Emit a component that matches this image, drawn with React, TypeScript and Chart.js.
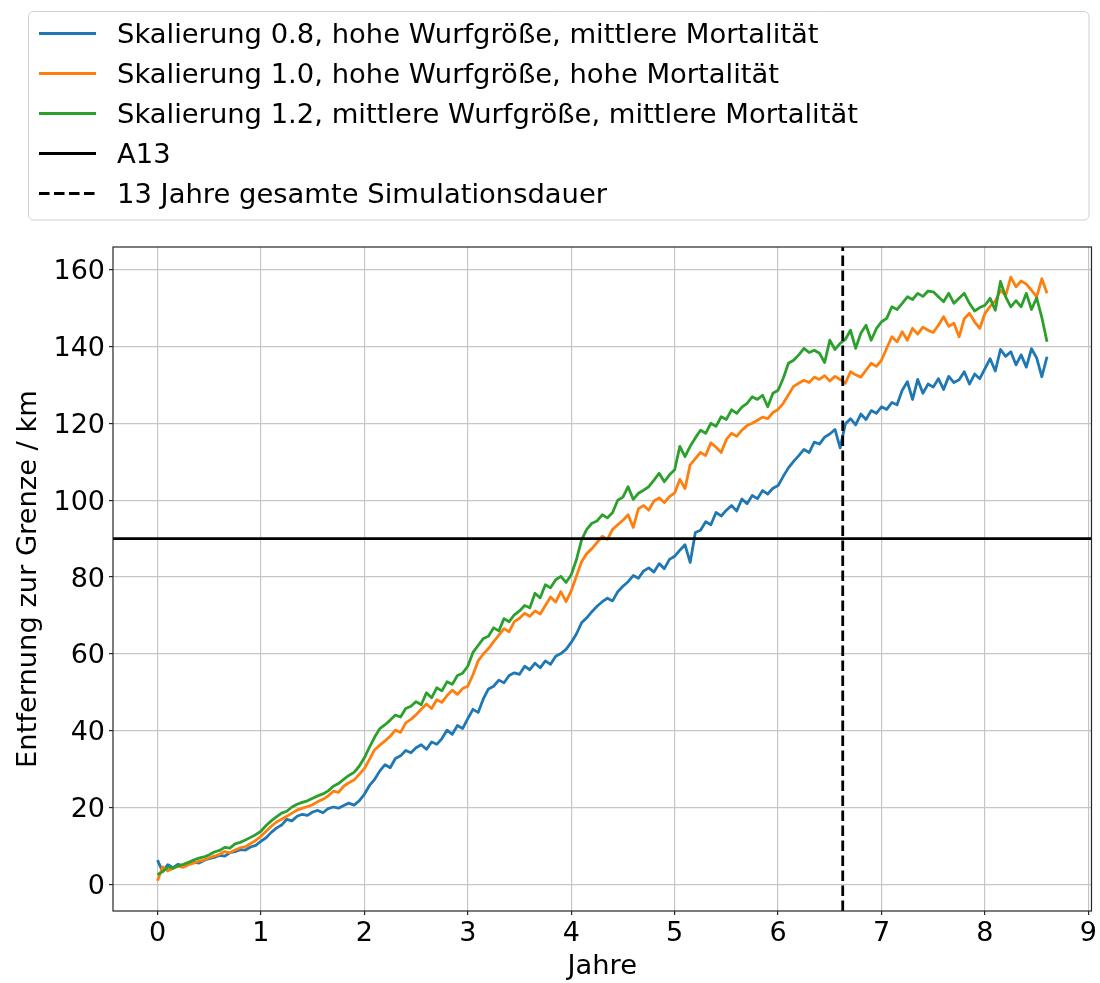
import React, { useEffect, useRef } from "react";
import { Chart, registerables } from "chart.js";

Chart.register(...registerables);

// ---------- data (years on x at a fixed step, km on y) ----------
const YEAR_STEP = 0.05;

const SERIES_LABELS = [
  "Skalierung 0.8, hohe Wurfgröße, mittlere Mortalität",
  "Skalierung 1.0, hohe Wurfgröße, hohe Mortalität",
  "Skalierung 1.2, mittlere Wurfgröße, mittlere Mortalität",
];
const SERIES_COLORS = ["#1f77b4", "#ff7f0e", "#2ca02c"];

const scale08 = [
  6.4, 3.4, 5.2, 4.4, 5.3, 4.8, 5.6, 5.9, 5.6, 6.3,
  6.8, 7.1, 7.6, 7.4, 8.3, 8.6, 9.1, 9.0, 9.8, 10.2,
  11.3, 12.2, 13.6, 14.7, 15.5, 17.0, 16.6, 17.8, 18.3, 18.0,
  18.9, 19.3, 18.7, 19.8, 20.2, 19.9, 20.6, 21.2, 20.7, 21.8,
  23.5, 25.8, 27.4, 29.6, 31.2, 30.4, 32.8, 33.5, 34.9, 34.3,
  35.6, 36.4, 35.2, 37.1, 36.5, 38.0, 40.2, 39.1, 41.4, 40.6,
  43.2, 45.6, 44.8, 48.3, 50.9, 51.6, 53.2, 52.5, 54.4, 55.1,
  54.7, 56.8, 55.9, 57.6, 56.4, 58.2, 57.3, 59.4, 60.1, 61.2,
  63.0, 65.2, 68.1, 69.4, 71.0, 72.4, 73.6, 74.5, 73.8, 76.2,
  77.6, 78.8, 80.4, 79.7, 81.6, 82.4, 81.3, 83.5, 82.2, 84.6,
  85.4, 87.0, 88.4, 83.8, 91.6, 92.2, 94.4, 93.6, 96.8, 95.9,
  97.4, 98.6, 97.2, 100.3, 99.1, 101.2, 100.4, 102.5, 101.6, 103.1,
  103.8, 106.2, 108.4, 110.1, 111.6, 113.2, 112.4, 115.1, 114.6, 116.4,
  117.2, 118.4, 113.6, 119.8, 121.2, 119.6, 122.4, 121.0, 123.3, 122.6,
  124.3, 123.6, 125.4, 124.8, 128.6, 130.8, 126.2, 131.4, 127.8, 130.2,
  129.4, 131.6, 128.8, 132.2, 130.6, 131.3, 133.4, 130.2, 132.8, 131.6,
  134.2, 136.8, 133.6, 139.2, 137.4, 138.6, 135.2, 137.8, 134.6, 139.4,
  137.0, 132.1, 137.3,
];

const scale10 = [
  1.0, 4.6, 3.6, 4.2, 4.8, 4.5, 5.2, 5.6, 6.1, 6.4,
  7.0, 7.4, 7.9, 8.6, 8.3, 9.0, 9.6, 9.9, 10.7, 11.5,
  12.6, 13.9, 15.2, 16.3, 17.0, 17.8, 18.6, 19.4, 19.9, 20.3,
  20.8, 21.6, 22.2, 23.1, 24.3, 24.0, 25.6, 26.5, 27.2, 28.7,
  30.2, 32.6, 35.1, 36.3, 37.4, 38.6, 40.2, 39.6, 42.1, 43.0,
  44.2, 45.6, 47.0, 45.8, 48.1, 47.4, 49.2, 50.6, 49.5, 51.0,
  51.6, 54.6, 58.2, 60.0, 61.4, 63.2, 64.9, 66.6, 65.8, 68.4,
  69.3, 70.6, 69.8, 71.2, 70.4, 72.6, 74.8, 73.5, 76.2, 73.6,
  76.4, 80.2, 84.0, 86.1, 87.4, 89.0, 90.6, 89.8, 92.4, 93.6,
  94.8, 96.2, 92.9, 97.8, 98.6, 97.4, 99.8, 100.6, 99.4, 100.9,
  101.9, 105.4, 103.0, 109.2, 110.8, 112.4, 111.6, 114.9, 113.8, 112.4,
  115.8, 117.4, 116.6, 118.2, 119.4, 120.0, 120.8, 121.6, 121.2, 122.8,
  123.6, 125.2, 127.4, 129.6, 130.4, 131.2, 130.6, 132.0, 131.4, 132.4,
  131.0, 132.2, 131.4, 130.4, 133.4, 132.6, 132.0, 133.8, 135.6, 134.8,
  136.4, 139.5, 142.5, 141.2, 143.8, 141.6, 144.7, 143.2, 145.0, 144.2,
  143.6, 145.5, 147.7, 145.2, 146.0, 142.5, 147.2, 148.6, 146.4, 144.7,
  148.6, 150.4, 151.8, 154.6, 153.2, 158.0, 155.5, 157.0, 156.2, 154.6,
  152.9, 157.6, 153.8,
];

const scale12 = [
  2.6, 3.4, 4.6, 4.3, 4.9, 5.3, 5.8, 6.4, 6.9, 7.2,
  7.8, 8.5, 8.9, 9.7, 9.5, 10.6, 11.0, 11.6, 12.3, 13.0,
  13.9, 15.4, 16.6, 17.6, 18.6, 19.1, 20.2, 20.9, 21.4, 21.8,
  22.5, 23.1, 23.6, 24.4, 25.6, 26.3, 27.4, 28.4, 29.2, 30.8,
  33.0, 35.8, 38.4, 40.6, 41.6, 42.8, 44.1, 43.6, 45.8, 46.4,
  47.6, 46.8, 49.9, 48.6, 51.2, 50.4, 52.8, 52.1, 54.4, 55.0,
  56.8, 60.4, 62.2, 64.0, 64.6, 66.8, 66.0, 69.2, 68.4, 70.2,
  71.2, 72.6, 72.0, 75.8, 74.6, 78.0, 77.2, 79.3, 80.2, 78.6,
  80.6, 84.5, 89.7, 92.4, 94.0, 94.6, 96.2, 95.4, 96.8, 100.0,
  100.8, 103.5, 100.2, 101.8, 102.6, 103.5, 105.2, 107.0, 104.8, 106.6,
  107.9, 114.0, 111.3, 114.0, 116.2, 118.2, 117.4, 120.0, 119.2, 121.7,
  121.0, 123.5, 122.6, 124.2, 125.2, 126.9, 126.2, 127.3, 124.3, 127.8,
  128.6, 131.7, 135.6, 136.4, 137.8, 139.5, 138.4, 139.0, 138.2, 135.8,
  141.6, 139.2, 140.8, 141.8, 144.2, 139.5, 143.4, 145.5, 141.6, 144.6,
  146.4, 147.3, 150.3, 149.6, 151.2, 152.9, 152.2, 153.8, 153.0, 154.4,
  154.2, 152.9, 151.6, 153.8, 151.2, 152.5, 153.8, 151.2, 149.2, 150.1,
  150.7, 152.5, 149.4, 156.9, 152.9, 150.3, 151.9, 150.3, 153.8, 149.6,
  152.6, 147.5, 141.2,
];

const A13_LABEL = "A13";
const A13_KM = 90;
const SIM_LABEL = "13 Jahre gesamte Simulationsdauer";
const SIM_END_YEARS = 6.625;

const X_TICKS = [0, 1, 2, 3, 4, 5, 6, 7, 8, 9];
const Y_TICKS = [0, 20, 40, 60, 80, 100, 120, 140, 160];
const X_LIMITS = [-0.43, 9.03];
const Y_LIMITS = [-6.85, 165.85];

const X_TITLE = "Jahre";
const Y_TITLE = "Entfernung zur Grenze / km";

const FONT = "'DejaVu Sans', 'Liberation Sans', sans-serif";

// ---------- plugins ----------
const framePlugin = {
  id: "mplFrame",
  afterDatasetsDraw(chart: any) {
    const { ctx, chartArea } = chart;
    ctx.save();
    ctx.strokeStyle = "#262626";
    ctx.lineWidth = 1.2;
    ctx.strokeRect(chartArea.left, chartArea.top, chartArea.right - chartArea.left, chartArea.bottom - chartArea.top);
    ctx.restore();
  },
};

const legendPlugin = {
  id: "mplLegend",
  afterDraw(chart: any) {
    const { ctx } = chart;
    const ds = chart.data.datasets;
    ctx.save();
    ctx.beginPath();
    if (ctx.roundRect) ctx.roundRect(28.5, 11.5, 1060.5, 208.5, 5);
    else ctx.rect(28.5, 11.5, 1060.5, 208.5);
    ctx.fillStyle = "rgba(255,255,255,0.8)";
    ctx.fill();
    ctx.strokeStyle = "#d0d0d0";
    ctx.lineWidth = 1;
    ctx.stroke();
    ds.forEach((d: any, i: number) => {
      const y = 33.5 + i * 40;
      ctx.beginPath();
      ctx.setLineDash(d.borderDash || []);
      ctx.lineCap = "butt";
      ctx.moveTo(39, y);
      ctx.lineTo(96, y);
      ctx.strokeStyle = d.borderColor;
      ctx.lineWidth = 3;
      ctx.stroke();
      ctx.setLineDash([]);
      ctx.fillStyle = "#000";
      ctx.font = `27.4px ${FONT}`;
      ctx.textBaseline = "alphabetic";
      ctx.textAlign = "left";
      ctx.fillText(d.label, 117, y + 9.3);
    });
    ctx.restore();
  },
};

function toPoints(values: number[]) {
  return values.map((v, i) => ({ x: Math.round(i * YEAR_STEP * 100) / 100, y: v }));
}

export default function App() {
  const canvasRef = useRef<HTMLCanvasElement | null>(null);

  useEffect(() => {
    document.body.style.margin = "0";
    const canvas = canvasRef.current;
    if (!canvas) return;
    const seriesValues = [scale08, scale10, scale12];
    const datasets: any[] = seriesValues.map((vals, i) => ({
      label: SERIES_LABELS[i],
      data: toPoints(vals),
      borderColor: SERIES_COLORS[i],
      backgroundColor: SERIES_COLORS[i],
      borderWidth: 2.8,
      pointRadius: 0,
      tension: 0,
      fill: false,
      borderJoinStyle: "round",
      borderCapStyle: "butt",
      order: 10 - i,
    }));
    datasets.push({
      label: A13_LABEL,
      data: [
        { x: X_LIMITS[0], y: A13_KM },
        { x: X_LIMITS[1], y: A13_KM },
      ],
      borderColor: "#000000",
      backgroundColor: "#000000",
      borderWidth: 2.8,
      pointRadius: 0,
      fill: false,
      order: 2,
    });
    datasets.push({
      label: SIM_LABEL,
      data: [
        { x: SIM_END_YEARS, y: Y_LIMITS[0] },
        { x: SIM_END_YEARS, y: Y_LIMITS[1] },
      ],
      borderColor: "#000000",
      backgroundColor: "#000000",
      borderWidth: 2.8,
      borderDash: [10.5, 4.5],
      pointRadius: 0,
      fill: false,
      order: 1,
    });

    const chart = new Chart(canvas, {
      type: "line",
      data: { datasets },
      plugins: [framePlugin, legendPlugin],
      options: {
        animation: false,
        responsive: false,
        devicePixelRatio: 1,
        events: [],
        layout: { padding: { top: 247, right: 7, bottom: 0, left: 0 } },
        plugins: {
          legend: { display: false },
          title: { display: false },
          tooltip: { enabled: false },
        },
        scales: {
          x: {
            type: "linear",
            min: X_LIMITS[0],
            max: X_LIMITS[1],
            afterBuildTicks: (axis: any) => {
              axis.ticks = X_TICKS.map((v) => ({ value: v }));
            },
            afterFit: (axis: any) => {
              axis.height = 72;
            },
            ticks: {
              includeBounds: false,
              autoSkip: false,
              maxRotation: 0,
              padding: 3,
              color: "#000",
              font: { family: FONT, size: 27 },
              callback: (v: any) => String(v),
            },
            grid: {
              color: "#c6c6c6",
              lineWidth: 1.2,
              drawTicks: true,
              tickLength: 4,
              tickColor: "#262626",
              tickWidth: 1.2,
            },
            border: { display: false },
            title: {
              display: true,
              text: X_TITLE,
              color: "#000",
              font: { family: FONT, size: 27.3, lineHeight: 1.2 },
              padding: { top: 0, bottom: 0 },
            },
          },
          y: {
            type: "linear",
            min: Y_LIMITS[0],
            max: Y_LIMITS[1],
            afterBuildTicks: (axis: any) => {
              axis.ticks = Y_TICKS.map((v) => ({ value: v }));
            },
            afterFit: (axis: any) => {
              axis.width = 113;
            },
            ticks: {
              includeBounds: false,
              autoSkip: false,
              padding: 4,
              labelOffset: 2.5,
              color: "#000",
              font: { family: FONT, size: 27 },
              callback: (v: any) => String(v),
            },
            grid: {
              color: "#c6c6c6",
              lineWidth: 1.2,
              drawTicks: true,
              tickLength: 4,
              tickColor: "#262626",
              tickWidth: 1.2,
            },
            border: { display: false },
            title: {
              display: true,
              text: Y_TITLE,
              color: "#000",
              font: { family: FONT, size: 27.3, lineHeight: 1.2 },
              padding: { top: 13, bottom: 0 },
            },
          },
        },
      } as any,
    });
    return () => chart.destroy();
  }, []);

  return (
    <div style={{ width: 1100, height: 983 }}>
      <canvas ref={canvasRef} width={1100} height={983} style={{ display: "block", width: 1100, height: 983 }} />
    </div>
  );
}
